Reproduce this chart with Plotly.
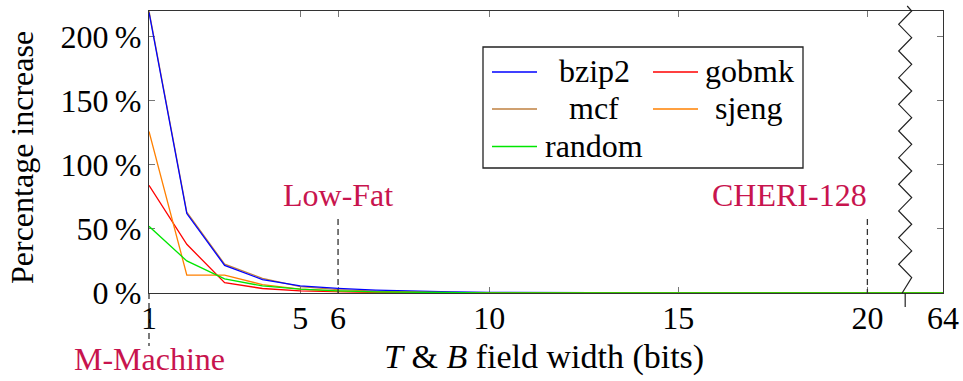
import plotly.graph_objects as go

# ---------------- data ----------------
bits = [1, 2, 3, 4, 5, 6, 7, 8, 9, 10, 11, 12, 13, 14, 15, 16, 17, 18, 19, 20, 64]
bzip2 = [219, 62, 21.5, 10.5, 5.5, 3.6, 2.3, 1.5, 0.9, 0.5, 0.3, 0.2, 0.1, 0.1, 0.05, 0, 0, 0, 0, 0, 0]
gobmk = [84, 38, 8, 3.5, 1.6, 0.8, 0.4, 0.2, 0.1, 0.05, 0, 0, 0, 0, 0, 0, 0, 0, 0, 0, 0]
mcf = [220, 63, 22.5, 11.5, 5.0, 2.6, 1.4, 0.7, 0.4, 0.2, 0.1, 0.05, 0, 0, 0, 0, 0, 0, 0, 0, 0]
sjeng = [126, 14, 14, 6.5, 3.0, 1.5, 0.8, 0.4, 0.2, 0.1, 0.05, 0, 0, 0, 0, 0, 0, 0, 0, 0, 0]
random_ = [52, 25, 11, 5.5, 3.0, 1.6, 0.8, 0.4, 0.2, 0.1, 0.05, 0, 0, 0, 0, 0, 0, 0, 0, 0, 0]

x_tick_bits = [1, 5, 6, 10, 15, 20, 64]
x_tick_labels = ["1", "5", "6", "10", "15", "20", "64"]
y_tick_vals = [0, 50, 100, 150, 200]
y_tick_labels = ["0\u2009%", "50\u2009%", "100\u2009%", "150\u2009%", "200\u2009%"]

# (label, bits, horizontal anchor of the label relative to the dashed line)
markers = [("Low-Fat", 6, "center"), ("CHERI-128", 20, "right"), ("M-Machine", 1, "center")]

series_names = ["bzip2", "gobmk", "mcf", "sjeng", "random"]
series_colors = {"bzip2": "rgb(0,0,255)", "gobmk": "rgb(255,0,0)", "mcf": "rgb(191,128,64)",
                 "sjeng": "rgb(255,128,0)", "random": "rgb(0,230,0)"}
series_values = {"bzip2": bzip2, "gobmk": gobmk, "mcf": mcf, "sjeng": sjeng, "random": random_}
draw_order = ["mcf", "bzip2", "gobmk", "sjeng", "random"]

# axis break: everything above 20 sits at position 22, break drawn at 21
BREAK_POS = 21


def pos(b):
    return b if b <= 20 else 22


X_MIN, X_MAX = 1, 22
Y_MIN, Y_MAX = 0, 220

W, H = 963, 381
ML, MR, MT, MB = 149, 20, 11, 88
PW, PH = W - ML - MR, H - MT - MB

FONT = "Liberation Serif, DejaVu Serif, Times New Roman, serif"
FS = 32
MAGENTA = "#C8144E"


def px_x(px):
    return (px - ML) / PW


def px_y(py):
    return (H - MB - py) / PH


def data_x_to_paper(x):
    return (x - X_MIN) / (X_MAX - X_MIN)


fig = go.Figure()

for name in draw_order:
    fig.add_trace(go.Scatter(
        x=[pos(b) for b in bits], y=series_values[name], mode="lines", name=name,
        line=dict(color=series_colors[name], width=1.3), showlegend=False,
        hoverinfo="skip"))

shapes = []
annotations = []

# marker dashed lines + labels
for label, b, anchor in markers:
    xp = data_x_to_paper(pos(b))
    tx = xp + (2 / PW if anchor == "right" else 0)
    if label == "M-Machine":
        shapes.append(dict(type="line", xref="paper", yref="paper", x0=xp, x1=xp,
                           y0=px_y(293), y1=px_y(346),
                           line=dict(color="#333", width=1.3, dash="6px,4px")))
        annotations.append(dict(x=tx, y=px_y(359), xref="paper", yref="paper", text=label,
                                showarrow=False, font=dict(family=FONT, size=FS, color=MAGENTA),
                                xanchor=anchor, yanchor="middle"))
    else:
        shapes.append(dict(type="line", xref="paper", yref="paper", x0=xp, x1=xp,
                           y0=px_y(219), y1=0,
                           line=dict(color="#333", width=1.3, dash="6px,4px")))
        annotations.append(dict(x=tx, y=px_y(195), xref="paper", yref="paper", text=label,
                                showarrow=False, font=dict(family=FONT, size=FS, color=MAGENTA),
                                xanchor=anchor, yanchor="middle"))

# axis break zigzag
bx = ML + (BREAK_POS - X_MIN) / (X_MAX - X_MIN) * PW
amp = 6.5
half = 13.33
pts = [(bx + 2, 6), (bx + amp, 11)]
yy = 11
side = -1
while yy + half < 290:
    yy += half
    pts.append((bx + side * amp, yy))
    side = -side
pts.append((bx - 3, 293))
path = "M " + " L ".join(f"{px_x(a):.5f},{px_y(b):.5f}" for a, b in pts)
shapes.append(dict(type="path", xref="paper", yref="paper", path=path,
                   line=dict(color="#222", width=1.2)))
shapes.append(dict(type="line", xref="paper", yref="paper", x0=px_x(bx), x1=px_x(bx),
                   y0=px_y(293), y1=px_y(307), line=dict(color="#222", width=1.2)))

# legend (drawn manually to match two-column centred layout)
legend_layout = [("bzip2", 0, 0), ("gobmk", 1, 0), ("mcf", 0, 1), ("sjeng", 1, 1), ("random", 0, 2)]
col_sample = [(492, 537), (653, 698)]
col_text = [594, 749]
row_y = [72, 109, 146.5]
shapes.append(dict(type="rect", xref="paper", yref="paper", x0=px_x(483), x1=px_x(803),
                   y0=px_y(47), y1=px_y(168), line=dict(color="#222", width=1.3),
                   fillcolor="white", layer="above"))
for name, c, r in legend_layout:
    x0, x1 = col_sample[c]
    shapes.append(dict(type="line", xref="paper", yref="paper", x0=px_x(x0), x1=px_x(x1),
                       y0=px_y(row_y[r]), y1=px_y(row_y[r]),
                       line=dict(color=series_colors[name], width=1.3)))
    tx = col_text[c]
    annotations.append(dict(x=px_x(tx), y=px_y(row_y[r] - 1), xref="paper", yref="paper",
                            text=name, showarrow=False,
                            font=dict(family=FONT, size=FS, color="black"),
                            xanchor="center", yanchor="middle"))

# axis titles
annotations.append(dict(x=px_x(544), y=px_y(357), xref="paper", yref="paper",
                        text="<i>T</i> &amp; <i>B</i> field width (bits)", showarrow=False,
                        font=dict(family=FONT, size=34, color="black"),
                        xanchor="center", yanchor="middle"))
annotations.append(dict(x=px_x(22), y=px_y(157), xref="paper", yref="paper",
                        text="Percentage increase", showarrow=False, textangle=-90,
                        font=dict(family=FONT, size=FS, color="black"),
                        xanchor="center", yanchor="middle"))

fig.update_layout(
    width=W, height=H,
    margin=dict(l=ML, r=MR, t=MT, b=MB, autoexpand=False),
    paper_bgcolor="white", plot_bgcolor="white",
    font=dict(family=FONT, size=FS, color="black"),
    showlegend=False,
    shapes=shapes,
    annotations=annotations,
    xaxis=dict(range=[X_MIN, X_MAX], tickvals=[pos(b) for b in x_tick_bits],
               ticktext=x_tick_labels, showgrid=False, zeroline=False, automargin=False,
               showline=True, mirror="ticks", linecolor="#333", linewidth=1.3,
               ticks="inside", ticklen=6, tickwidth=1.2, tickcolor="#777",
               ticklabelstandoff=-4,
               tickfont=dict(family=FONT, size=FS), layer="below traces"),
    yaxis=dict(range=[Y_MIN, Y_MAX], tickvals=y_tick_vals, ticktext=y_tick_labels,
               showgrid=False, zeroline=False, automargin=False,
               showline=True, mirror="ticks", linecolor="#333", linewidth=1.3,
               ticks="inside", ticklen=6, tickwidth=1.2, tickcolor="#777",
               tickfont=dict(family=FONT, size=FS), layer="below traces"),
)

fig.write_html("out.html")
